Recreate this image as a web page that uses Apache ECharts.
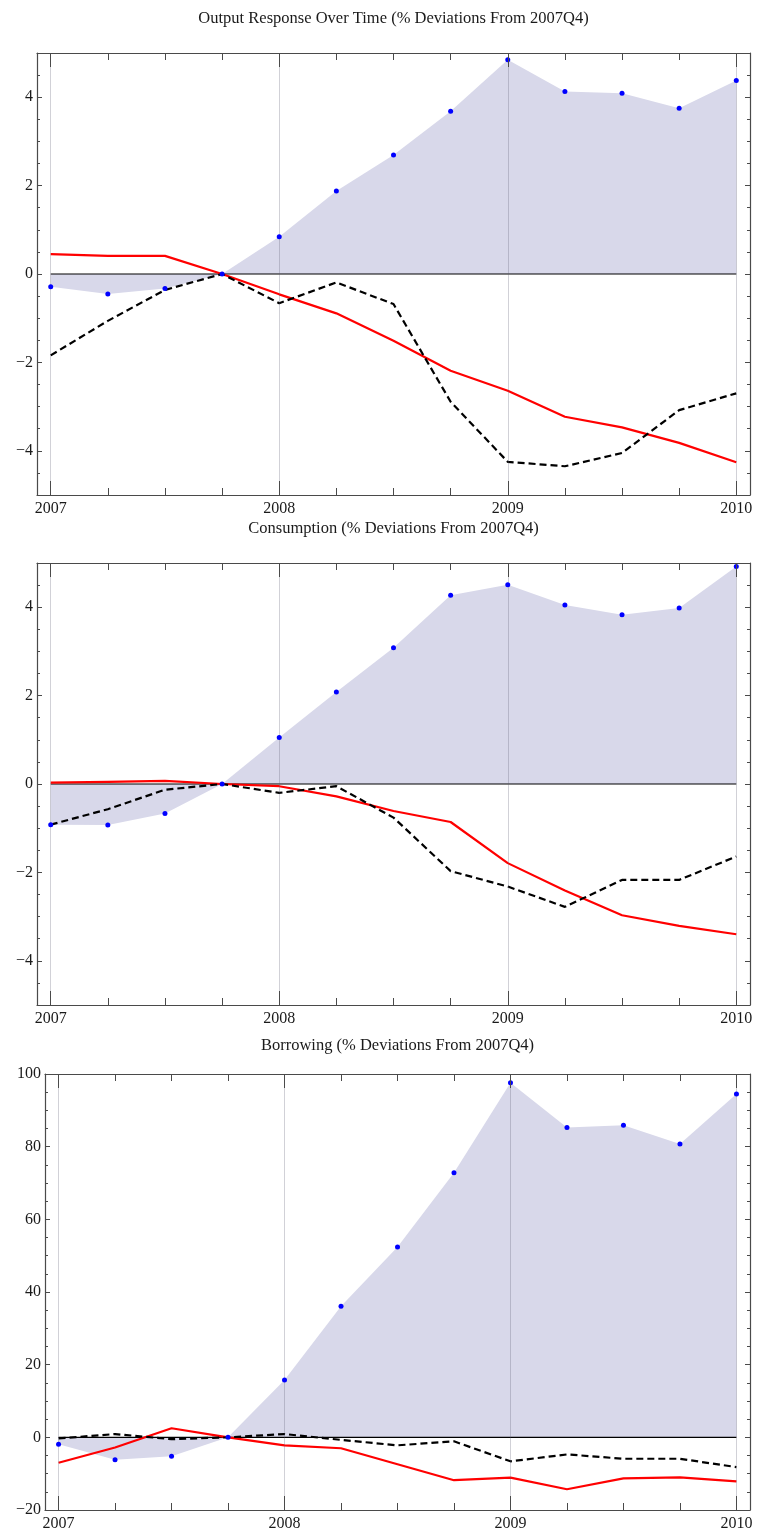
<!DOCTYPE html>
<html>
<head>
<meta charset="utf-8">
<script src="https://cdn.jsdelivr.net/npm/echarts@6/dist/echarts.min.js"></script>
<style>
html,body{margin:0;padding:0;background:#fff;}
#chart{width:757px;height:1534px;}
</style>
</head>
<body>
<div id="chart"></div>
<script>
// ---- data ----
const quarters = [2007, 2007.25, 2007.5, 2007.75, 2008, 2008.25, 2008.5, 2008.75, 2009, 2009.25, 2009.5, 2009.75, 2010];
const yearTicks = [2007, 2008, 2009, 2010];

const titles = [
  "Output Response Over Time (% Deviations From 2007Q4)",
  "Consumption (% Deviations From 2007Q4)",
  "Borrowing (% Deviations From 2007Q4)"
];

const outputBand  = [-0.29, -0.45, -0.33, 0, 0.84, 1.88, 2.69, 3.68, 4.85, 4.13, 4.09, 3.75, 4.38];
const outputRed   = [0.45, 0.41, 0.41, 0, -0.46, -0.89, -1.51, -2.19, -2.64, -3.23, -3.47, -3.82, -4.26];
const outputBlack = [-1.84, -1.06, -0.36, 0, -0.66, -0.19, -0.68, -2.89, -4.25, -4.35, -4.05, -3.08, -2.70];

const consBand  = [-0.92, -0.93, -0.67, 0, 1.05, 2.08, 3.08, 4.27, 4.51, 4.05, 3.83, 3.98, 4.92];
const consRed   = [0.03, 0.05, 0.07, 0, -0.05, -0.28, -0.61, -0.86, -1.79, -2.41, -2.97, -3.21, -3.40];
const consBlack = [-0.92, -0.57, -0.13, 0, -0.20, -0.05, -0.76, -1.97, -2.32, -2.78, -2.17, -2.17, -1.64];

const borrBand  = [-1.9, -6.2, -5.2, 0, 15.8, 36.1, 52.4, 72.8, 97.6, 85.3, 85.9, 80.7, 94.5];
const borrRed   = [-7.0, -2.8, 2.5, 0, -2.2, -3.0, -7.4, -11.8, -11.1, -14.3, -11.3, -11.0, -12.1];
const borrBlack = [-0.3, 0.9, -0.5, 0, 0.9, -0.7, -2.2, -1.1, -6.6, -4.7, -5.9, -5.9, -8.2];

const yMajor12 = [-4, -2, 0, 2, 4];
const yMajor3  = [-20, 0, 20, 40, 60, 80, 100];

// ---- layout / style ----
const FONT = "'Liberation Serif', 'DejaVu Serif', serif";
const FRAME = '#4a4a4a';
const panels = [
  {grid:{left:37, top:53, width:713, height:442}, ymin:-5, ymax:5, minor:0.5, major:yMajor12,
   band:outputBand, red:outputRed, black:outputBlack, titleY:19},
  {grid:{left:37, top:563, width:713, height:442}, ymin:-5, ymax:5, minor:0.5, major:yMajor12,
   band:consBand, red:consRed, black:consBlack, titleY:529},
  {grid:{left:45, top:1074, width:705, height:436}, ymin:-20, ymax:100, minor:5, major:yMajor3,
   band:borrBand, red:borrRed, black:borrBlack, titleY:1046}
];
const XPAD = 0.06;

function fmtNum(v){ return v < 0 ? '\u2212' + Math.abs(v) : String(v); }

const option = {
  animation:false,
  backgroundColor:'#fff',
  grid:[], xAxis:[], yAxis:[], series:[], graphic:[]
};

panels.forEach((p, gi) => {
  option.grid.push(Object.assign({containLabel:false, outerBoundsMode:'none'}, p.grid));
  const xBase = option.xAxis.length;
  const xCommon = {type:'value', gridIndex:gi, min:quarters[0]-XPAD, max:quarters[quarters.length-1]+XPAD,
                   splitLine:{show:false}, z:10};
  // bottom: quarter ticks + labels
  option.xAxis.push(Object.assign({}, xCommon, {position:'bottom',
    axisLine:{show:true, onZero:false, lineStyle:{color:FRAME, width:1.2}},
    axisTick:{show:true, inside:true, length:7, customValues:quarters, lineStyle:{color:FRAME, width:1}},
    axisLabel:{show:true, customValues:yearTicks, formatter:v=>String(v), margin:6,
               fontFamily:FONT, fontSize:16, color:'#1a1a1a'}}));
  // bottom: year ticks (longer)
  option.xAxis.push(Object.assign({}, xCommon, {position:'bottom',
    axisLine:{show:false, onZero:false},
    axisTick:{show:true, inside:true, length:14, customValues:yearTicks, lineStyle:{color:FRAME, width:1}},
    axisLabel:{show:false}}));
  // top
  option.xAxis.push(Object.assign({}, xCommon, {position:'top',
    axisLine:{show:true, onZero:false, lineStyle:{color:FRAME, width:1.2}},
    axisTick:{show:true, inside:true, length:7, customValues:quarters, lineStyle:{color:FRAME, width:1}},
    axisLabel:{show:false}}));
  option.xAxis.push(Object.assign({}, xCommon, {position:'top',
    axisLine:{show:false, onZero:false},
    axisTick:{show:true, inside:true, length:14, customValues:yearTicks, lineStyle:{color:FRAME, width:1}},
    axisLabel:{show:false}}));

  const yBase = option.yAxis.length;
  const yCommon = {type:'value', gridIndex:gi, min:p.ymin, max:p.ymax, splitLine:{show:false}, z:10};
  ['left','right'].forEach(pos => {
    option.yAxis.push(Object.assign({}, yCommon, {position:pos,
      axisLine:{show:true, onZero:false, lineStyle:{color:FRAME, width:1.2}},
      axisTick:{show:true, inside:true, length:5, customValues:p.major, lineStyle:{color:FRAME, width:1}},
      axisLabel:{show:pos==='left', customValues:p.major, formatter:fmtNum, margin:4,
                 fontFamily:FONT, fontSize:16, color:'#1a1a1a'}}));
    option.yAxis.push(Object.assign({}, yCommon, {position:pos, interval:p.minor,
      axisLine:{show:false, onZero:false},
      axisTick:{show:true, inside:true, length:3, lineStyle:{color:FRAME, width:1}},
      axisLabel:{show:false}}));
  });

  const zip = arr => quarters.map((q, i) => [q, arr[i]]);
  // shaded band between 0 and the blue points
  option.series.push({type:'line', xAxisIndex:xBase, yAxisIndex:yBase, data:zip(p.band),
    symbol:'none', lineStyle:{width:0, opacity:0},
    areaStyle:{color:'#d8d8ea', opacity:1, origin:0}, z:1, silent:true});
  // zero line + year grid lines
  option.series.push({type:'line', xAxisIndex:xBase, yAxisIndex:yBase,
    data:[[quarters[0], 0], [quarters[quarters.length-1], 0]],
    symbol:'none', lineStyle:{color:'#000', width:1.1}, z:2, silent:true,
    markLine:{silent:true, symbol:'none', label:{show:false},
      lineStyle:{color:'rgba(90,90,110,0.28)', width:1, type:'solid'},
      data:yearTicks.map(y => ({xAxis:y}))}});
  option.series.push({type:'line', xAxisIndex:xBase, yAxisIndex:yBase, data:zip(p.red),
    symbol:'none', lineStyle:{color:'#ff0000', width:2.2}, z:3, silent:true});
  option.series.push({type:'line', xAxisIndex:xBase, yAxisIndex:yBase, data:zip(p.black),
    symbol:'none', lineStyle:{color:'#000', width:2.2, type:[7,4]}, z:4, silent:true});
  option.series.push({type:'scatter', xAxisIndex:xBase, yAxisIndex:yBase, data:zip(p.band),
    symbol:'circle', symbolSize:5, itemStyle:{color:'#0000ff', opacity:1}, z:5, silent:true});

  option.graphic.push({type:'text', x:p.grid.left + p.grid.width/2, y:p.titleY,
    style:{text:titles[gi], font:'16.5px ' + FONT, fill:'#1a1a1a', textAlign:'center', textVerticalAlign:'middle'}});
});

const chart = echarts.init(document.getElementById('chart'), null, {renderer:'canvas'});
chart.setOption(option);
</script>
</body>
</html>
